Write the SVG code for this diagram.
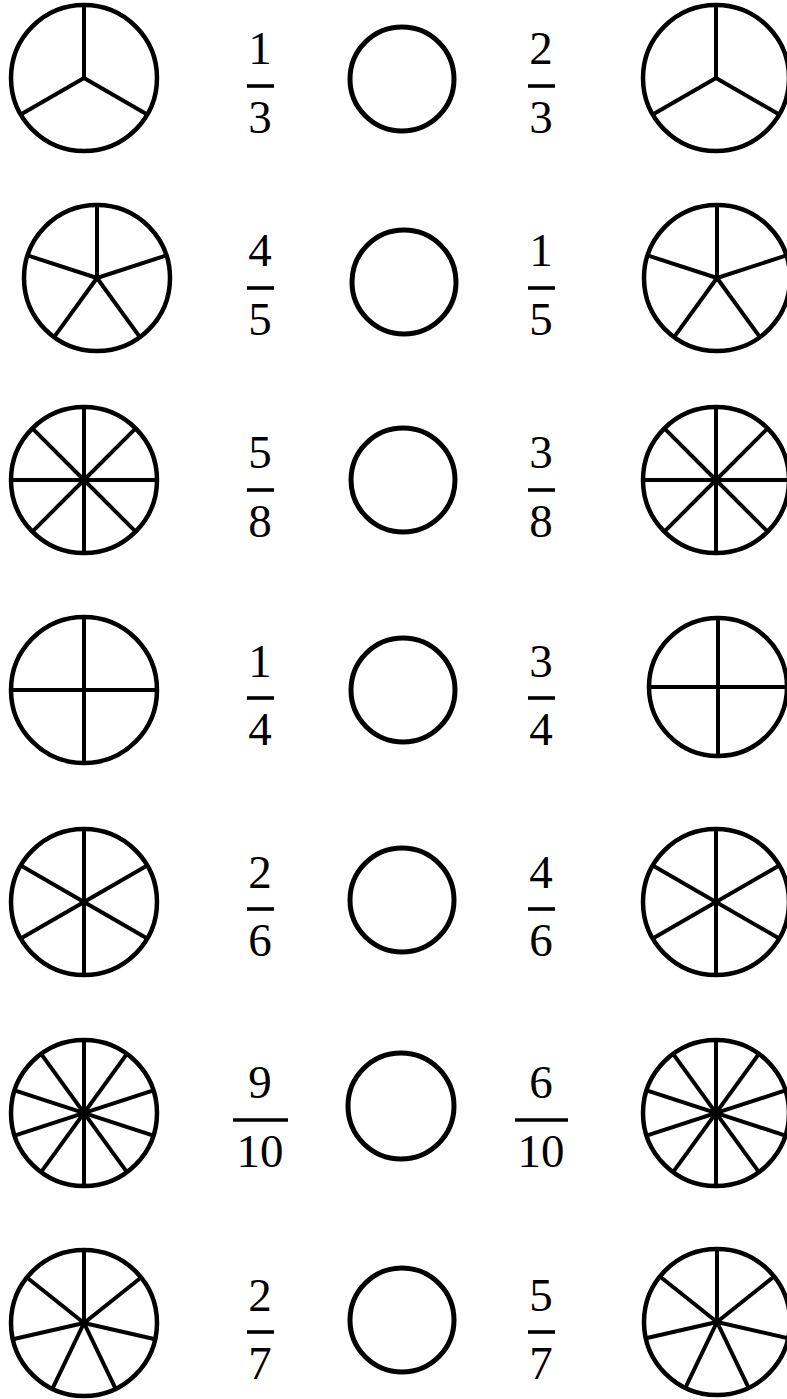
<svg xmlns="http://www.w3.org/2000/svg" width="787" height="1399" viewBox="0 0 787 1399">
<style>
.rim{fill:#fff;stroke:#000;stroke-width:4.5}
.sp{stroke:#000;stroke-width:4}
.cmp{fill:none;stroke:#000;stroke-width:5}
.bar{stroke:#000;stroke-width:3.6}
text{font-family:"Liberation Serif","Times New Roman",serif;font-size:47px;fill:#000;text-anchor:middle}
</style>
<rect width="787" height="1399" fill="#fff"/>

<!-- Row 1: thirds -->
<g id="r1-left" transform="translate(84,78)">
<circle class="rim" r="73"/>
<line class="sp" y2="-73"/><line class="sp" y2="-73" transform="rotate(120)"/><line class="sp" y2="-73" transform="rotate(240)"/>
</g>
<g id="r1-frac-left"><text x="260" y="64">1</text><line class="bar" x1="247" y1="86" x2="274" y2="86"/><text x="260" y="133">3</text></g>
<g id="r1-compare"><circle class="cmp" cx="402" cy="79" r="52"/></g>
<g id="r1-frac-right"><text x="541" y="64">2</text><line class="bar" x1="528" y1="86" x2="555" y2="86"/><text x="541" y="133">3</text></g>
<g id="r1-right" transform="translate(716,78)">
<circle class="rim" r="73"/>
<line class="sp" y2="-73"/><line class="sp" y2="-73" transform="rotate(120)"/><line class="sp" y2="-73" transform="rotate(240)"/>
</g>

<!-- Row 2: fifths -->
<g id="r2-left" transform="translate(97,278)">
<circle class="rim" r="73"/>
<line class="sp" y2="-73"/><line class="sp" y2="-73" transform="rotate(72)"/><line class="sp" y2="-73" transform="rotate(144)"/><line class="sp" y2="-73" transform="rotate(216)"/><line class="sp" y2="-73" transform="rotate(288)"/>
</g>
<g id="r2-frac-left"><text x="260" y="266">4</text><line class="bar" x1="247" y1="288" x2="274" y2="288"/><text x="260" y="335">5</text></g>
<g id="r2-compare"><circle class="cmp" cx="404" cy="282" r="52"/></g>
<g id="r2-frac-right"><text x="541" y="266">1</text><line class="bar" x1="528" y1="288" x2="555" y2="288"/><text x="541" y="335">5</text></g>
<g id="r2-right" transform="translate(717,278)">
<circle class="rim" r="73"/>
<line class="sp" y2="-73"/><line class="sp" y2="-73" transform="rotate(72)"/><line class="sp" y2="-73" transform="rotate(144)"/><line class="sp" y2="-73" transform="rotate(216)"/><line class="sp" y2="-73" transform="rotate(288)"/>
</g>

<!-- Row 3: eighths -->
<g id="r3-left" transform="translate(84,480)">
<circle class="rim" r="73"/>
<line class="sp" y2="-73"/><line class="sp" y2="-73" transform="rotate(45)"/><line class="sp" y2="-73" transform="rotate(90)"/><line class="sp" y2="-73" transform="rotate(135)"/><line class="sp" y2="-73" transform="rotate(180)"/><line class="sp" y2="-73" transform="rotate(225)"/><line class="sp" y2="-73" transform="rotate(270)"/><line class="sp" y2="-73" transform="rotate(315)"/>
</g>
<g id="r3-frac-left"><text x="260" y="468">5</text><line class="bar" x1="247" y1="490" x2="274" y2="490"/><text x="260" y="537">8</text></g>
<g id="r3-compare"><circle class="cmp" cx="403" cy="480" r="52"/></g>
<g id="r3-frac-right"><text x="541" y="468">3</text><line class="bar" x1="528" y1="490" x2="555" y2="490"/><text x="541" y="537">8</text></g>
<g id="r3-right" transform="translate(716,480)">
<circle class="rim" r="73"/>
<line class="sp" y2="-73"/><line class="sp" y2="-73" transform="rotate(45)"/><line class="sp" y2="-73" transform="rotate(90)"/><line class="sp" y2="-73" transform="rotate(135)"/><line class="sp" y2="-73" transform="rotate(180)"/><line class="sp" y2="-73" transform="rotate(225)"/><line class="sp" y2="-73" transform="rotate(270)"/><line class="sp" y2="-73" transform="rotate(315)"/>
</g>

<!-- Row 4: quarters -->
<g id="r4-left" transform="translate(84,690)">
<circle class="rim" r="73"/>
<line class="sp" y1="-73" y2="73"/><line class="sp" x1="-73" x2="73"/>
</g>
<g id="r4-frac-left"><text x="260" y="677">1</text><line class="bar" x1="247" y1="698" x2="274" y2="698"/><text x="260" y="745">4</text></g>
<g id="r4-compare"><circle class="cmp" cx="403" cy="690" r="52"/></g>
<g id="r4-frac-right"><text x="541" y="677">3</text><line class="bar" x1="528" y1="698" x2="555" y2="698"/><text x="541" y="745">4</text></g>
<g id="r4-right" transform="translate(718,687)">
<circle class="rim" r="69"/>
<line class="sp" y1="-69" y2="69"/><line class="sp" x1="-69" x2="69"/>
</g>

<!-- Row 5: sixths -->
<g id="r5-left" transform="translate(84,902)">
<circle class="rim" r="73"/>
<line class="sp" y1="-73" y2="73"/><line class="sp" y1="-73" y2="73" transform="rotate(60)"/><line class="sp" y1="-73" y2="73" transform="rotate(120)"/>
</g>
<g id="r5-frac-left"><text x="260" y="888">2</text><line class="bar" x1="247" y1="909" x2="274" y2="909"/><text x="260" y="956">6</text></g>
<g id="r5-compare"><circle class="cmp" cx="402" cy="900" r="52"/></g>
<g id="r5-frac-right"><text x="541" y="888">4</text><line class="bar" x1="528" y1="909" x2="555" y2="909"/><text x="541" y="956">6</text></g>
<g id="r5-right" transform="translate(716,902)">
<circle class="rim" r="73"/>
<line class="sp" y1="-73" y2="73"/><line class="sp" y1="-73" y2="73" transform="rotate(60)"/><line class="sp" y1="-73" y2="73" transform="rotate(120)"/>
</g>

<!-- Row 6: tenths -->
<g id="r6-left" transform="translate(84,1113)">
<circle class="rim" r="73"/>
<line class="sp" y1="-73" y2="73"/><line class="sp" y1="-73" y2="73" transform="rotate(36)"/><line class="sp" y1="-73" y2="73" transform="rotate(72)"/><line class="sp" y1="-73" y2="73" transform="rotate(108)"/><line class="sp" y1="-73" y2="73" transform="rotate(144)"/>
</g>
<g id="r6-frac-left"><text x="260" y="1098">9</text><line class="bar" x1="233" y1="1120" x2="288" y2="1120"/><text x="260" y="1167">10</text></g>
<g id="r6-compare"><circle class="cmp" cx="401" cy="1106" r="53"/></g>
<g id="r6-frac-right"><text x="541" y="1098">6</text><line class="bar" x1="515" y1="1120" x2="568" y2="1120"/><text x="541" y="1167">10</text></g>
<g id="r6-right" transform="translate(716,1113)">
<circle class="rim" r="73"/>
<line class="sp" y1="-73" y2="73"/><line class="sp" y1="-73" y2="73" transform="rotate(36)"/><line class="sp" y1="-73" y2="73" transform="rotate(72)"/><line class="sp" y1="-73" y2="73" transform="rotate(108)"/><line class="sp" y1="-73" y2="73" transform="rotate(144)"/>
</g>

<!-- Row 7: sevenths -->
<g id="r7-left" transform="translate(84,1323)">
<circle class="rim" r="73"/>
<line class="sp" y2="-73"/><line class="sp" y2="-73" transform="rotate(51.43)"/><line class="sp" y2="-73" transform="rotate(102.86)"/><line class="sp" y2="-73" transform="rotate(154.29)"/><line class="sp" y2="-73" transform="rotate(205.71)"/><line class="sp" y2="-73" transform="rotate(257.14)"/><line class="sp" y2="-73" transform="rotate(308.57)"/>
</g>
<g id="r7-frac-left"><text x="260" y="1311">2</text><line class="bar" x1="247" y1="1332" x2="274" y2="1332"/><text x="260" y="1379">7</text></g>
<g id="r7-compare"><circle class="cmp" cx="402" cy="1320" r="52"/></g>
<g id="r7-frac-right"><text x="541" y="1311">5</text><line class="bar" x1="528" y1="1332" x2="555" y2="1332"/><text x="541" y="1379">7</text></g>
<g id="r7-right" transform="translate(717,1322)">
<circle class="rim" r="73"/>
<line class="sp" y2="-73"/><line class="sp" y2="-73" transform="rotate(51.43)"/><line class="sp" y2="-73" transform="rotate(102.86)"/><line class="sp" y2="-73" transform="rotate(154.29)"/><line class="sp" y2="-73" transform="rotate(205.71)"/><line class="sp" y2="-73" transform="rotate(257.14)"/><line class="sp" y2="-73" transform="rotate(308.57)"/>
</g>
</svg>
